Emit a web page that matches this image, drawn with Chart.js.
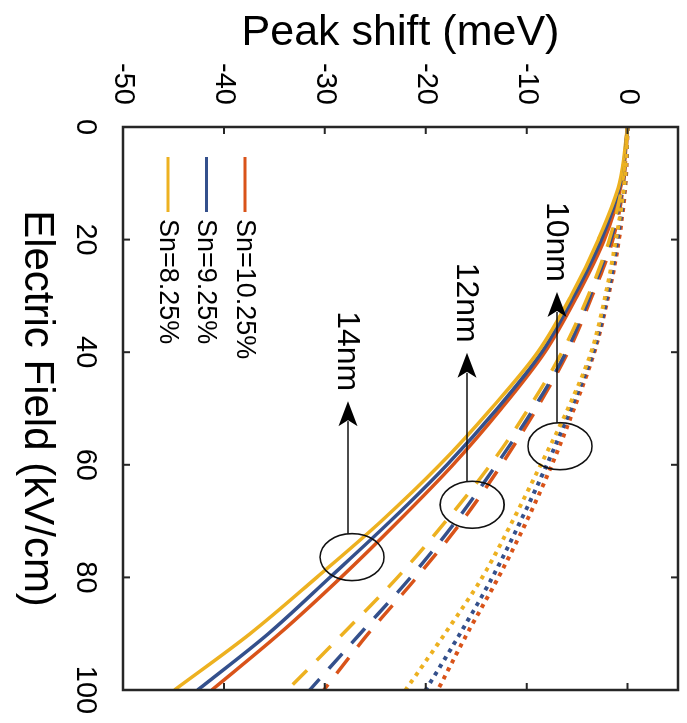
<!DOCTYPE html>
<html><head><meta charset="utf-8">
<script src="https://cdn.jsdelivr.net/npm/chart.js@4.4.0/dist/chart.umd.min.js"></script>
<style>
html,body{margin:0;padding:0;background:#fff;overflow:hidden;width:687px;height:723px;}
#wrap{position:absolute;left:0;top:0;width:723px;height:687px;transform-origin:0 0;transform:translate(687px,0) rotate(90deg);}
canvas{display:block;}
</style></head><body>
<div id="wrap"><canvas id="c" width="723" height="687"></canvas></div>
<script>
// ---- data ----
const fieldValues = [0, 10, 20, 30, 40, 50, 60, 70, 80, 90, 100];      // Electric field (kV/cm)
const seriesLabels = ['Sn=10.25%', 'Sn=9.25%', 'Sn=8.25%'];
const wellLabels = ['10nm', '12nm', '14nm'];
const xTickValues = [0, 20, 40, 60, 80, 100];
const yTickValues = [-50, -40, -30, -20, -10, 0];

// 14nm wells (solid)
const shift14_Sn1025 = [0, -0.6, -2.3, -5.0, -8.2, -12.5, -17.3, -22.7, -28.4, -34.5, -41.2];
const shift14_Sn925  = [0, -0.7, -2.6, -5.3, -8.5, -12.9, -17.9, -23.5, -29.5, -35.6, -42.6];
const shift14_Sn825  = [0, -0.8, -2.9, -5.6, -8.9, -13.5, -18.6, -24.4, -30.8, -37.4, -44.9];
// 12nm wells (dashed)
const shift12_Sn1025 = [0, -0.4, -1.45, -3.5, -5.9, -9.0, -12.5, -16.4, -20.9, -25.7, -30.1];
const shift12_Sn925  = [0, -0.45, -1.65, -3.7, -6.1, -9.3, -13.0, -17.0, -21.5, -26.5, -31.5];
const shift12_Sn825  = [0, -0.5, -1.8, -3.9, -6.5, -9.8, -13.6, -18.0, -22.8, -28.2, -33.7];
// 10nm wells (dotted)
const shift10_Sn1025 = [0, -0.2, -0.85, -1.9, -3.3, -5.3, -7.5, -10.0, -12.8, -15.9, -18.8];
const shift10_Sn925  = [0, -0.25, -1.0, -2.0, -3.4, -5.6, -8.0, -10.6, -13.4, -16.6, -20.0];
const shift10_Sn825  = [0, -0.3, -1.15, -2.2, -3.6, -5.9, -8.6, -11.4, -14.4, -18.1, -22.0];

// annotation placement (data coordinates)
const annotEllipseField = [56.7, 67.1, 76.4];
const annotEllipseShift = [-6.7, -15.4, -27.3];
const annotLineShift = [-7.0, -15.9, -27.7];
const annotTipField = [29.3, 40.1, 48.7];

// ---- styles ----
const colors = ['#D95319', '#34508C', '#EDB120'];
const FONT = "'Liberation Sans', Arial, Helvetica, sans-serif";
const pts = arr => fieldValues.map((f, i) => ({x: f, y: arr[i]}));

function ds(label, arr, ci, kind) {
  const d = {
    label: label, data: pts(arr), borderColor: colors[ci], backgroundColor: colors[ci],
    pointRadius: 0, cubicInterpolationMode: 'monotone', fill: false, borderWidth: 3.5,
    borderCapStyle: 'butt'
  };
  if (kind === 'dash') d.borderDash = [20, 14];
  if (kind === 'dot') { d.borderDash = [4, 5]; d.borderWidth = 4; }
  return d;
}

const datasets = [
  ds('10nm ' + seriesLabels[2], shift10_Sn825, 2, 'dot'),
  ds('10nm ' + seriesLabels[1], shift10_Sn925, 1, 'dot'),
  ds('10nm ' + seriesLabels[0], shift10_Sn1025, 0, 'dot'),
  ds('12nm ' + seriesLabels[2], shift12_Sn825, 2, 'dash'),
  ds('12nm ' + seriesLabels[1], shift12_Sn925, 1, 'dash'),
  ds('12nm ' + seriesLabels[0], shift12_Sn1025, 0, 'dash'),
  ds('14nm ' + seriesLabels[2], shift14_Sn825, 2, 'solid'),
  ds('14nm ' + seriesLabels[1], shift14_Sn925, 1, 'solid'),
  ds('14nm ' + seriesLabels[0], shift14_Sn1025, 0, 'solid'),
];

const decor = {
  id: 'decor',
  afterDatasetsDraw(chart) {
    const ctx = chart.ctx, a = chart.chartArea, xs = chart.scales.x, ys = chart.scales.y;
    ctx.save();
    // frame
    ctx.strokeStyle = '#262626'; ctx.lineWidth = 2.5;
    ctx.strokeRect(a.left, a.top, a.right - a.left, a.bottom - a.top);
    // inward ticks, all four sides
    ctx.lineWidth = 2;
    const tl = 7;
    ctx.beginPath();
    xs.ticks.forEach(t => {
      const u = xs.getPixelForValue(t.value);
      ctx.moveTo(u, a.bottom); ctx.lineTo(u, a.bottom - tl);
      ctx.moveTo(u, a.top); ctx.lineTo(u, a.top + tl);
    });
    ys.ticks.forEach(t => {
      const v = ys.getPixelForValue(t.value);
      ctx.moveTo(a.left, v); ctx.lineTo(a.left + tl, v);
      ctx.moveTo(a.right, v); ctx.lineTo(a.right - tl, v);
    });
    ctx.stroke();

    // ellipses, arrows, labels
    const rU = 23.5, rV = 32;
    ctx.strokeStyle = '#111'; ctx.fillStyle = '#000';
    for (let i = 0; i < wellLabels.length; i++) {
      const cu = xs.getPixelForValue(annotEllipseField[i]);
      const cv = ys.getPixelForValue(annotEllipseShift[i]);
      ctx.lineWidth = 1.6;
      ctx.beginPath(); ctx.ellipse(cu, cv, rU, rV, 0, 0, Math.PI * 2); ctx.stroke();
      const lv = ys.getPixelForValue(annotLineShift[i]);
      const dv = (lv - cv) / rV;
      const startU = cu - rU * Math.sqrt(Math.max(0, 1 - dv * dv));
      const tipU = xs.getPixelForValue(annotTipField[i]);
      const headL = 25, headW = 9.5;
      ctx.lineWidth = 1.5;
      ctx.beginPath(); ctx.moveTo(startU, lv); ctx.lineTo(tipU + headL - 5, lv); ctx.stroke();
      ctx.beginPath();
      ctx.moveTo(tipU, lv);
      ctx.lineTo(tipU + headL, lv - headW);
      ctx.lineTo(tipU + headL - 6, lv);
      ctx.lineTo(tipU + headL, lv + headW);
      ctx.closePath(); ctx.fill();
      ctx.font = '32px ' + FONT;
      ctx.textAlign = 'right'; ctx.textBaseline = 'middle';
      ctx.fillText(wellLabels[i], tipU - 10, lv + 1);
    }

    // legend (inside plot, lower-left of unrotated plot)
    ctx.font = '27px ' + FONT;
    ctx.textAlign = 'left'; ctx.textBaseline = 'middle';
    const lu = a.left + 30, lv0 = a.bottom - 122, step = 38.5;
    for (let i = 0; i < seriesLabels.length; i++) {
      const v = lv0 + i * step;
      ctx.strokeStyle = colors[i]; ctx.lineWidth = 3;
      ctx.beginPath(); ctx.moveTo(lu, v); ctx.lineTo(lu + 55, v); ctx.stroke();
      ctx.fillStyle = '#000';
      ctx.fillText(seriesLabels[i], lu + 62, v + 1);
    }
    ctx.restore();
  }
};

new Chart(document.getElementById('c'), {
  type: 'line',
  data: {datasets},
  options: {
    responsive: false, animation: false, devicePixelRatio: 1,
    layout: {padding: {left: 0, right: 33, top: 9, bottom: 0}},
    plugins: {legend: {display: false}, tooltip: {enabled: false}},
    scales: {
      x: {
        type: 'linear', position: 'bottom', min: 0, max: 100,
        afterBuildTicks: s => { s.ticks = xTickValues.map(v => ({value: v})); },
        afterFit: s => { s.height = 123; s.paddingLeft = 0; s.paddingRight = 0; },
        grid: {display: false, drawTicks: false},
        border: {display: false},
        ticks: {padding: 21, color: '#000', font: {family: FONT, size: 29}, maxRotation: 0, autoSkip: false},
        title: {display: true, text: 'Electric Field (kV/cm)', color: '#000', font: {family: FONT, size: 42}, padding: {top: 0, bottom: 11}}
      },
      y: {
        type: 'linear', position: 'left', min: -50, max: 5,
        afterBuildTicks: s => { s.ticks = yTickValues.map(v => ({value: v})); },
        afterFit: s => { s.width = 127; s.paddingTop = 0; s.paddingBottom = 0; },
        grid: {display: false, drawTicks: false},
        border: {display: false},
        ticks: {padding: 22, color: '#000', font: {family: FONT, size: 29}, autoSkip: false},
        title: {display: true, text: 'Peak shift (meV)', color: '#000', font: {family: FONT, size: 43}, padding: {top: 7, bottom: 0}}
      }
    }
  },
  plugins: [decor]
});
</script>
</body></html>
